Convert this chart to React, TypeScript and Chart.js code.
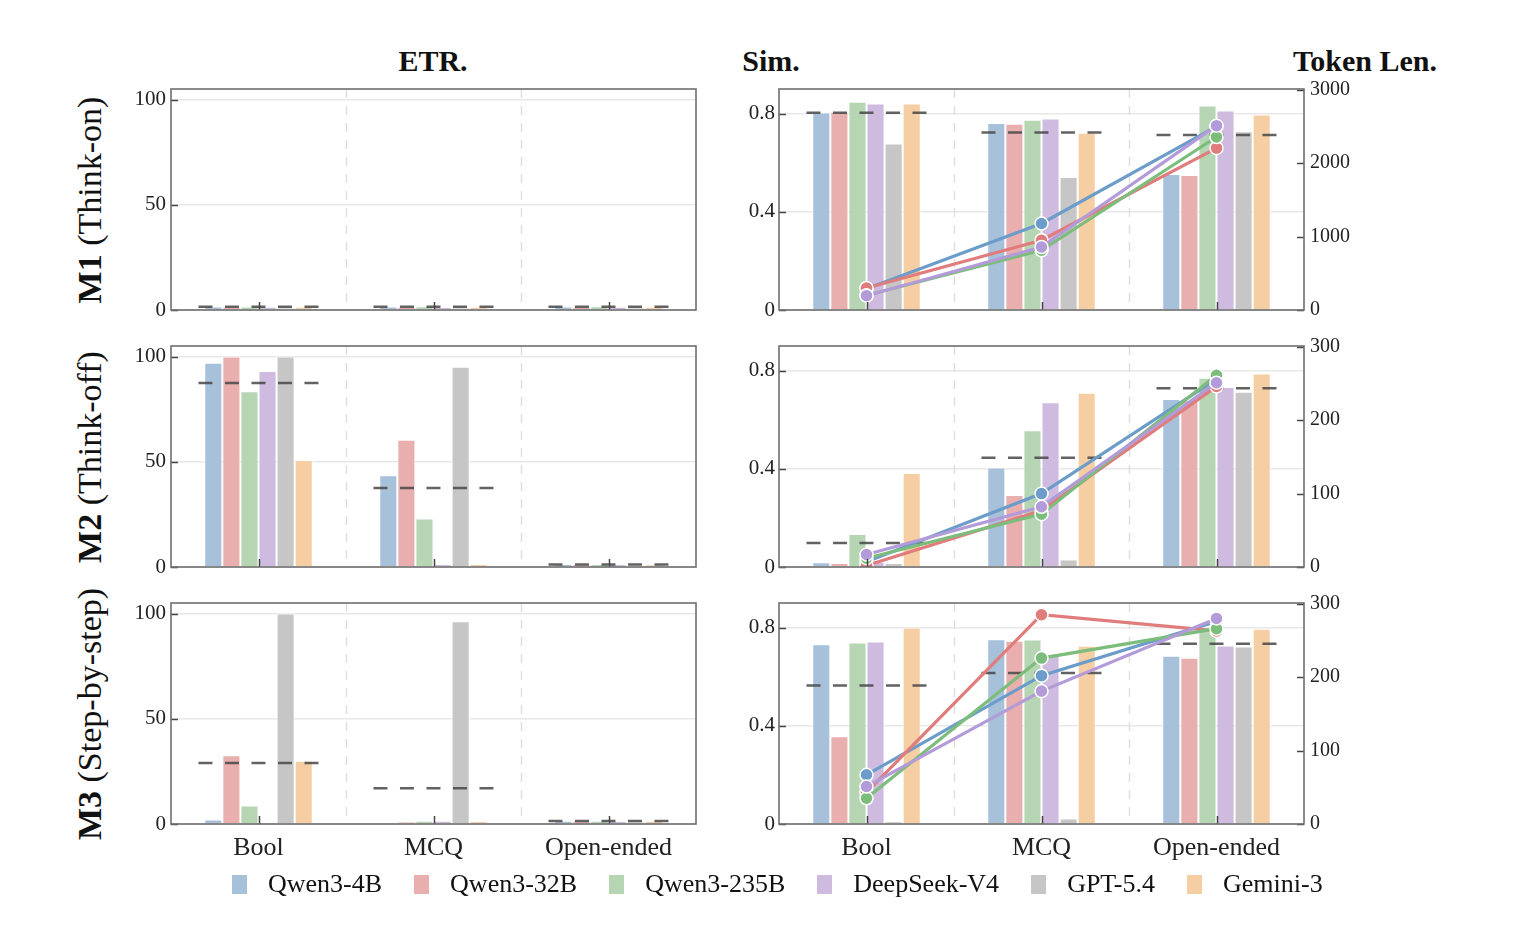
import React, { useEffect, useRef } from "react";
import { Chart, registerables } from "chart.js";
Chart.register(...registerables);

const categories = ["Bool", "MCQ", "Open-ended"];
const models = ["Qwen3-4B", "Qwen3-32B", "Qwen3-235B", "DeepSeek-V4", "GPT-5.4", "Gemini-3"];
const barColors = ["#a7c1da", "#e9aeae", "#b5d5b3", "#cebbdf", "#c6c6c6", "#f6cea3"];
const lineColors = ["#6c9cc9", "#e07c7c", "#7cbd7c", "#b29bd8"];
const rowLabels = [["M1", " (Think-on)"], ["M2", " (Think-off)"], ["M3", " (Step-by-step)"]];

// ETR (%) — one row per model, values for Bool / MCQ / Open-ended
const etrM1 = [
  [1.7, 1.7, 1.7],
  [1.6, 1.6, 1.6],
  [1.7, 1.8, 1.8],
  [1.6, 1.4, 1.6],
  [1.1, 1.1, 1.1],
  [1.5, 1.5, 1.5],
];
const etrM2 = [
  [97.1, 43.6, 1.4],
  [100, 60.4, 1.3],
  [83.5, 23.0, 1.4],
  [93.1, 1.4, 1.4],
  [100, 95.2, 0.4],
  [50.8, 1.4, 1.3],
];
const etrM3 = [
  [2.1, 0.0, 1.5],
  [32.7, 1.1, 1.5],
  [8.8, 1.6, 1.5],
  [0.0, 1.6, 1.4],
  [100, 96.3, 1.0],
  [30.0, 1.4, 1.5],
];

// Similarity — one row per model
const simM1 = [
  [0.804, 0.762, 0.554],
  [0.807, 0.758, 0.55],
  [0.848, 0.775, 0.833],
  [0.841, 0.78, 0.812],
  [0.678, 0.542, 0.728],
  [0.841, 0.722, 0.796],
];
const simM2 = [
  [0.019, 0.405, 0.684],
  [0.016, 0.293, 0.68],
  [0.134, 0.557, 0.771],
  [0.02, 0.671, 0.733],
  [0.016, 0.031, 0.714],
  [0.383, 0.71, 0.788],
];
const simM3 = [
  [0.732, 0.752, 0.685],
  [0.357, 0.746, 0.677],
  [0.739, 0.751, 0.8],
  [0.743, 0.69, 0.727],
  [0.011, 0.022, 0.723],
  [0.8, 0.726, 0.795],
];

// Token length — open models only (Qwen3-4B, Qwen3-32B, Qwen3-235B, DeepSeek-V4)
const tokM1 = [
  [290, 1178, 2500],
  [300, 950, 2205],
  [200, 813, 2356],
  [195, 858, 2511],
];
const tokM2 = [
  [7, 100, 256],
  [2, 77, 246],
  [12, 72, 261],
  [17, 82, 251],
];
const tokM3 = [
  [67, 202, 276],
  [43, 285, 263],
  [35, 226, 266],
  [51, 181, 280],
];
const tokMax = [3010, 301, 301];
const tokTicksM1 = [0, 1000, 2000, 3000];
const tokTicksM23 = [0, 100, 200, 300];
const etrTicks = [0, 50, 100];
const simTicks = [0, 0.4, 0.8];

const FONT = "'Liberation Serif', 'Times New Roman', serif";
Chart.defaults.font.family = FONT;
Chart.defaults.color = "#222";

const PLOT_W = 525;
const PLOT_H = 221;
const rowTops = [89, 346, 603];
const LEFT_X = 171;
const RIGHT_X = 779;
const AXIS_W = 60;
const PAD_TOP = 14;

function means(rows: number[][]) {
  return categories.map((_, c) => rows.reduce((s, r) => s + r[c], 0) / rows.length);
}

const decor = {
  id: "decor",
  beforeDatasetsDraw(chart: any) {
    const { ctx, chartArea: a, scales } = chart;
    const x = scales.x;
    ctx.save();
    ctx.strokeStyle = "#dedede";
    ctx.lineWidth = 1.4;
    ctx.setLineDash([9, 8]);
    for (let i = 0; i < categories.length - 1; i++) {
      const px = Math.round((x.getPixelForValue(i) + x.getPixelForValue(i + 1)) / 2) + 0.5;
      ctx.beginPath();
      ctx.moveTo(px, a.top);
      ctx.lineTo(px, a.bottom);
      ctx.stroke();
    }
    ctx.restore();
  },
  afterDatasetDraw(chart: any, args: any) {
    if (args.index !== 0) return;
    const { ctx, scales } = chart;
    const x = scales.x;
    const y = scales.y;
    const m: number[] = chart.options.plugins.decor.means;
    const slot = x.getPixelForValue(1) - x.getPixelForValue(0);
    ctx.save();
    ctx.strokeStyle = "rgba(70,70,70,0.85)";
    ctx.lineWidth = 2.5;
    ctx.setLineDash([14, 12.5]);
    m.forEach((v, i) => {
      const cx = x.getPixelForValue(i);
      const py = y.getPixelForValue(v);
      ctx.beginPath();
      ctx.moveTo(cx - slot * 0.343, py);
      ctx.lineTo(cx + slot * 0.343, py);
      ctx.stroke();
    });
    ctx.restore();
  },
  afterDraw(chart: any) {
    const { ctx, chartArea: a, scales } = chart;
    ctx.save();
    ctx.strokeStyle = "#444";
    ctx.lineWidth = 1.5;
    const y = scales.y;
    y.ticks.forEach((t: any) => {
      const py = Math.round(y.getPixelForValue(t.value)) + 0.5;
      ctx.beginPath();
      ctx.moveTo(a.left, py);
      ctx.lineTo(a.left + 7, py);
      ctx.stroke();
    });
    if (scales.y2) {
      const y2 = scales.y2;
      y2.ticks.forEach((t: any) => {
        const py = Math.round(y2.getPixelForValue(t.value)) + 0.5;
        ctx.beginPath();
        ctx.moveTo(a.right, py);
        ctx.lineTo(a.right - 7, py);
        ctx.stroke();
      });
    }
    const x = scales.x;
    categories.forEach((_, i) => {
      const px = Math.round(x.getPixelForValue(i)) + 0.5;
      ctx.beginPath();
      ctx.moveTo(px, a.bottom);
      ctx.lineTo(px, a.bottom - 8);
      ctx.stroke();
    });
    ctx.strokeStyle = "#6e6e6e";
    ctx.lineWidth = 1.6;
    ctx.strokeRect(a.left, a.top, a.right - a.left, a.bottom - a.top);
    ctx.restore();
  },
};

function xScale(showLabels: boolean, h: number) {
  return {
    type: "category",
    offset: true,
    grid: { display: false, drawTicks: false },
    border: { display: false },
    ticks: { display: showLabels, font: { size: 26, family: FONT }, color: "#222", padding: 9, maxRotation: 0 },
    afterFit: (s: any) => {
      s.height = h;
      s.paddingLeft = 0;
      s.paddingRight = 0;
    },
  };
}

function fixedY(width: number, values: number[]) {
  return {
    afterBuildTicks: (s: any) => {
      s.ticks = values.map((v) => ({ value: v }));
    },
    afterFit: (s: any) => {
      s.width = width;
      s.paddingTop = 0;
      s.paddingBottom = 0;
    },
  };
}

function barSets(rows: number[][]) {
  return models.map((m, i) => ({
    type: "bar",
    label: m,
    data: rows[i],
    backgroundColor: barColors[i],
    borderColor: "#ffffff",
    borderWidth: 1,
    borderSkipped: "bottom",
    barPercentage: 1,
    categoryPercentage: 0.62,
    order: 2,
    yAxisID: "y",
  }));
}

function leftConfig(rows: number[][], showX: boolean, xh: number) {
  return {
    type: "bar",
    data: { labels: categories, datasets: barSets(rows) },
    options: {
      responsive: false,
      animation: false,
      layout: { autoPadding: false, padding: { top: PAD_TOP, right: 6, left: 0, bottom: 0 } },
      plugins: { legend: { display: false }, tooltip: { enabled: false }, decor: { means: means(rows) } },
      scales: {
        x: xScale(showX, xh),
        y: {
          min: 0,
          max: 105,
          grid: { color: "#e8e8e8", lineWidth: 1.5, drawTicks: false },
          border: { display: false },
          ticks: { font: { size: 21, family: FONT }, color: "#222", padding: 5 },
          ...fixedY(AXIS_W, etrTicks),
        },
      },
    },
    plugins: [decor],
  };
}

function rightConfig(sim: number[][], tok: number[][], r: number, showX: boolean, xh: number) {
  const lines = tok.map((vals, i) => ({
    type: "line",
    label: models[i] + " tokens",
    data: vals,
    borderColor: lineColors[i],
    backgroundColor: lineColors[i],
    pointBackgroundColor: lineColors[i],
    pointBorderColor: "#ffffff",
    pointBorderWidth: 1.5,
    pointRadius: 6.5,
    borderWidth: 3.2,
    tension: 0,
    order: 1 + (tok.length - 1 - i) * 0.1,
    yAxisID: "y2",
  }));
  return {
    type: "bar",
    data: { labels: categories, datasets: [...barSets(sim), ...lines] },
    options: {
      responsive: false,
      animation: false,
      layout: { autoPadding: false, padding: { top: PAD_TOP, right: 0, left: 0, bottom: 0 } },
      plugins: { legend: { display: false }, tooltip: { enabled: false }, decor: { means: means(sim) } },
      scales: {
        x: xScale(showX, xh),
        y: {
          position: "left",
          min: 0,
          max: 0.9,
          grid: { color: "#e8e8e8", lineWidth: 1.5, drawTicks: false },
          border: { display: false },
          ticks: { font: { size: 21, family: FONT }, color: "#222", padding: 4 },
          ...fixedY(AXIS_W, simTicks),
        },
        y2: {
          position: "right",
          min: 0,
          max: tokMax[r],
          grid: { display: false, drawTicks: false },
          border: { display: false },
          ticks: {
            font: { size: 20, family: FONT },
            color: "#222",
            padding: 6,
            callback: (v: any) => String(v),
          },
          ...fixedY(AXIS_W, r === 0 ? tokTicksM1 : tokTicksM23),
        },
      },
    },
    plugins: [decor],
  };
}

function ChartBox(props: { cfg: any; left: number; top: number; width: number; height: number }) {
  const ref = useRef<HTMLCanvasElement>(null);
  useEffect(() => {
    const c = new Chart(ref.current as HTMLCanvasElement, props.cfg);
    return () => c.destroy();
  }, []);
  return (
    <canvas
      ref={ref}
      width={props.width}
      height={props.height}
      style={{ position: "absolute", left: props.left, top: props.top, width: props.width, height: props.height }}
    />
  );
}

export default function App() {
  const etr = [etrM1, etrM2, etrM3];
  const sim = [simM1, simM2, simM3];
  const tok = [tokM1, tokM2, tokM3];
  const titleStyle: any = {
    position: "absolute",
    top: 44,
    fontFamily: FONT,
    fontWeight: "bold",
    fontSize: 30,
    color: "#111",
    transform: "translateX(-50%)",
    whiteSpace: "nowrap",
    lineHeight: "34px",
  };
  return (
    <div style={{ position: "absolute", left: 0, top: 0, width: 1530, height: 930, background: "#fff", overflow: "hidden" }}>
      <div style={{ ...titleStyle, left: 433 }}>ETR.</div>
      <div style={{ ...titleStyle, left: 771 }}>Sim.</div>
      <div style={{ ...titleStyle, left: 1365 }}>Token Len.</div>
      {rowTops.map((t, r) => {
        const last = r === 2;
        const xh = last ? 45 : 14;
        const h = PAD_TOP + PLOT_H + xh;
        return (
          <React.Fragment key={r}>
            <div
              style={{
                position: "absolute",
                left: 90,
                top: t + PLOT_H / 2,
                transform: "translate(-50%, -50%) rotate(-90deg)",
                fontFamily: FONT,
                fontSize: 34,
                color: "#111",
                whiteSpace: "nowrap",
                lineHeight: "38px",
              }}
            >
              <b>{rowLabels[r][0]}</b>
              {rowLabels[r][1]}
            </div>
            <ChartBox
              cfg={leftConfig(etr[r], last, xh)}
              left={LEFT_X - AXIS_W}
              top={t - PAD_TOP}
              width={AXIS_W + PLOT_W + 6}
              height={h}
            />
            <ChartBox
              cfg={rightConfig(sim[r], tok[r], r, last, xh)}
              left={RIGHT_X - AXIS_W}
              top={t - PAD_TOP}
              width={AXIS_W + PLOT_W + AXIS_W}
              height={h}
            />
          </React.Fragment>
        );
      })}
      <div
        style={{
          position: "absolute",
          left: 232,
          top: 868,
          display: "flex",
          alignItems: "center",
          fontFamily: FONT,
          fontSize: 26,
          color: "#111",
          whiteSpace: "nowrap",
          height: 32,
        }}
      >
        {models.map((m, i) => (
          <div key={m} style={{ display: "flex", alignItems: "center", marginRight: 32 }}>
            <span style={{ display: "inline-block", width: 15, height: 19, background: barColors[i], marginRight: 21 }} />
            <span>{m}</span>
          </div>
        ))}
      </div>
    </div>
  );
}
